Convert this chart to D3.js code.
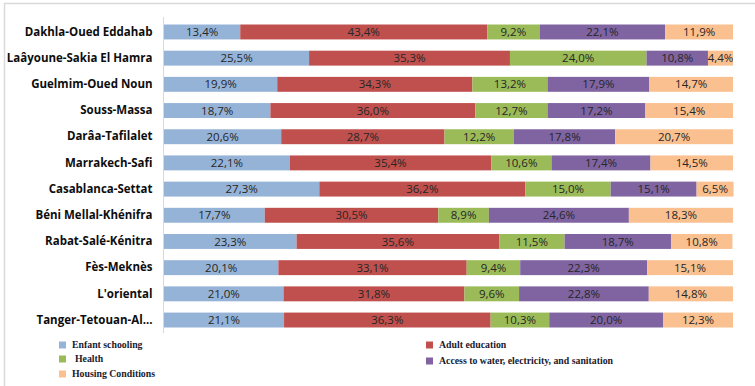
<!DOCTYPE html>
<html>
<head>
<meta charset="utf-8">
<script src="https://cdn.jsdelivr.net/npm/d3@7"></script>
<style>
  html, body { margin: 0; padding: 0; background: #fff; }
  svg { display: block; }
</style>
</head>
<body>
<svg id="chart" width="755" height="386"></svg>
<script>
// Regions, top to bottom
const regions = [
  "Dakhla-Oued Eddahab", "Laâyoune-Sakia El Hamra", "Guelmim-Oued Noun", "Souss-Massa",
  "Darâa-Tafilalet", "Marrakech-Safi", "Casablanca-Settat", "Béni Mellal-Khénifra",
  "Rabat-Salé-Kénitra", "Fès-Meknès", "L'oriental", "Tanger-Tetouan-Al..."
];

// Share of each component per region (%)
const enfantSchooling = [13.4, 25.5, 19.9, 18.7, 20.6, 22.1, 27.3, 17.7, 23.3, 20.1, 21.0, 21.1];
const adultEducation  = [43.4, 35.3, 34.3, 36.0, 28.7, 35.4, 36.2, 30.5, 35.6, 33.1, 31.8, 36.3];
const health          = [9.2, 24.0, 13.2, 12.7, 12.2, 10.6, 15.0, 8.9, 11.5, 9.4, 9.6, 10.3];
const waterAccess     = [22.1, 10.8, 17.9, 17.2, 17.8, 17.4, 15.1, 24.6, 18.7, 22.3, 22.8, 20.0];
const housing         = [11.9, 4.4, 14.7, 15.4, 20.7, 14.5, 6.5, 18.3, 10.8, 15.1, 14.8, 12.3];

const seriesNames = [
  "Enfant schooling", "Adult education", "Health",
  "Access to water, electricity, and sanitation", "Housing Conditions"
];
const seriesValues = [enfantSchooling, adultEducation, health, waterAccess, housing];
const colors = ["#95B3D7", "#C0504D", "#9BBB59", "#8064A2", "#FAC090"];

const rows = regions.map((r, i) => {
  const o = { region: r };
  seriesNames.forEach((s, k) => { o[s] = seriesValues[k][i]; });
  return o;
});

const svg = d3.select("#chart");

// chart frame
svg.append("line").attr("x1", 4).attr("x2", 755).attr("y1", 3.5).attr("y2", 3.5)
  .attr("stroke", "#d9d9d9").attr("stroke-width", 1.5);
svg.append("line").attr("x1", 4.5).attr("x2", 4.5).attr("y1", 3).attr("y2", 386)
  .attr("stroke", "#d9d9d9").attr("stroke-width", 1.5);

const x = d3.scaleLinear().domain([0, 100]).range([164, 733]);
const y = d3.scaleBand().domain(regions).range([19, 333]).paddingInner(0.43).paddingOuter(0.21);

const stack = d3.stack().keys(seriesNames)(rows);

// bars
const layers = svg.append("g").selectAll("g").data(stack).join("g")
  .attr("fill", (d, i) => colors[i]);

layers.selectAll("rect").data(d => d).join("rect")
  .attr("x", d => x(d[0]))
  .attr("y", d => y(d.data.region))
  .attr("width", d => x(d[1]) - x(d[0]))
  .attr("height", y.bandwidth());

// value labels
const fmt = v => v.toFixed(1).replace(".", ",") + "%";
layers.each(function (layer) {
  d3.select(this).selectAll("text").data(layer).join("text")
    .attr("x", d => (x(d[0]) + x(d[1])) / 2)
    .attr("y", d => y(d.data.region) + y.bandwidth() / 2)
    .attr("dy", "0.36em")
    .attr("text-anchor", "middle")
    .attr("fill", "#262626")
    .style("font-family", "'Open Sans', 'Noto Sans', sans-serif")
    .style("font-size", "11.5px")
    .text(d => fmt(d[1] - d[0]));
});

// category axis
const axis = svg.append("g").attr("transform", "translate(163.5,0)")
  .call(d3.axisLeft(y).tickSize(0).tickPadding(11));
axis.select(".domain").attr("stroke", "#d9d9d9").attr("d", "M0,17V333");
axis.selectAll("text")
  .attr("fill", "#0d0d0d")
  .style("font-family", "'Open Sans', 'Noto Sans', sans-serif")
  .style("font-weight", "bold")
  .style("font-size", "11.5px");

// legend
const legendPos = [
  { i: 0, x: 59, y: 345 },
  { i: 2, x: 59, y: 359 },
  { i: 4, x: 59, y: 374 },
  { i: 1, x: 426, y: 345 },
  { i: 3, x: 426, y: 361 }
];
const leg = svg.append("g").selectAll("g").data(legendPos).join("g")
  .attr("transform", d => `translate(${d.x},${d.y})`);
leg.append("rect").attr("x", 0).attr("y", -3.5).attr("width", 7).attr("height", 7)
  .attr("fill", d => colors[d.i]);
leg.append("text")
  .attr("x", d => d.i === 2 ? 16 : 13)
  .attr("dy", "0.35em")
  .attr("fill", "#1a1a2e")
  .style("font-family", "'Liberation Serif', 'DejaVu Serif', serif")
  .style("font-weight", "bold")
  .style("font-size", "9.8px")
  .text(d => seriesNames[d.i]);
</script>
</body>
</html>
